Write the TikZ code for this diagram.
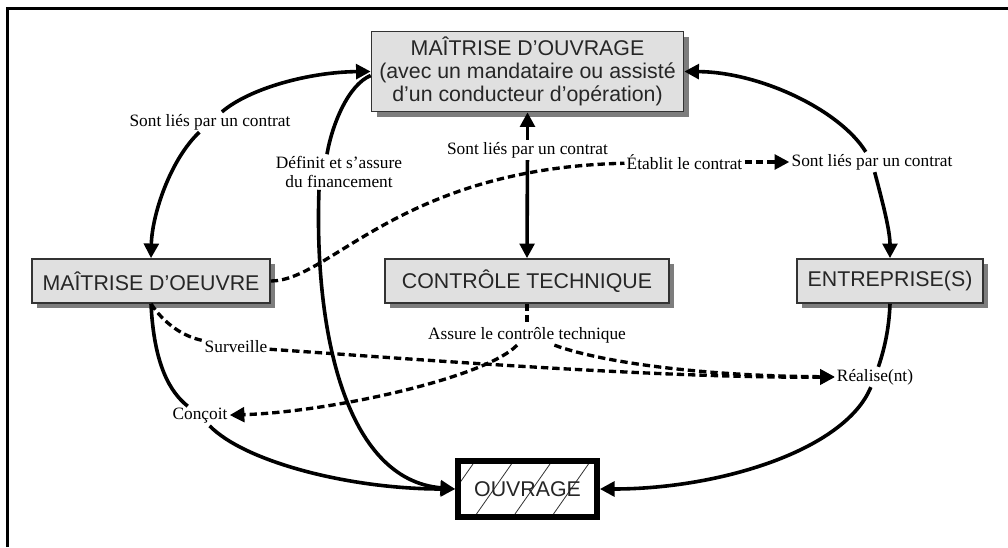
\documentclass[tikz,border=0pt]{standalone}
\usepackage{fontspec}
\setmainfont{Liberation Serif}
\newfontfamily\boxfont{Liberation Sans}
\usetikzlibrary{arrows.meta,shadows,calc}
\definecolor{boxgray}{RGB}{224,224,224}
\definecolor{shadowgray}{RGB}{125,125,125}
\begin{document}
\begin{tikzpicture}[x=0.75pt,y=-0.75pt,
  box/.style={draw=black!80, line width=1.2pt, fill=boxgray,
    font=\boxfont\fontsize{16}{17}\selectfont, text=black!85, align=center, inner sep=2pt,
    drop shadow={shadow xshift=3.75pt, shadow yshift=-3.75pt, fill=shadowgray, opacity=1}},
  lbl/.style={fill=white, inner sep=1.5pt, font=\fontsize{13}{14}\selectfont, align=center},
  conn/.style={line width=2.7pt},
  arr/.style={conn, -{Triangle[length=11pt,width=11pt]}},
  dsh/.style={line width=2.5pt, dash pattern=on 5.5pt off 3pt},
  darr/.style={dsh, -{Triangle[length=11pt,width=11pt]}},
]
\useasboundingbox (0,0) rectangle (1008,547);
\draw[line width=2pt] (7.7,547) -- (7.7,8.7) -- (1008,8.7);

% boxes
\node[box, minimum width=234pt, minimum height=60pt] (mouv) at (527.5,71.5)
  {MAÎTRISE D’OUVRAGE\\(avec un mandataire ou assisté\\d’un conducteur d’opération)};
\node[box, minimum width=178.5pt, minimum height=33pt] (moe) at (151,281) {MAÎTRISE D’OEUVRE};
\node[box, minimum width=213pt, minimum height=33pt] (ct) at (527,281) {CONTRÔLE TECHNIQUE};
\node[box, minimum width=139.5pt, minimum height=33pt] (ent) at (890,281) {ENTREPRISE(S)};
\node[draw=black, line width=4.5pt, fill=white, minimum width=104pt, minimum height=42pt, inner sep=0pt,
  font=\boxfont\fontsize{16}{17}\selectfont, text=black!85,
  path picture={\foreach \d in {-4,...,3}
     \draw[line width=0.6pt, black!80] ($(path picture bounding box.center)+(\d*38.5-72,0)+(-28,40)$) -- ++(56,-80);}]
  (ouv) at (527.5,489) {OUVRAGE};

% labels
\node[lbl] (lblA) at (210,122) {Sont liés par un contrat};
\node[lbl] (lblB) at (872,162) {Sont liés par un contrat};
\node[lbl] (lblC) at (527.5,150) {Sont liés par un contrat};
\node[lbl] (lblD) at (339,172) {Définit et s’assure\\du financement};
\node[lbl] (lblE) at (200,416) {Conçoit};
\node[lbl] (lblF) at (875,377) {Réalise(nt)};
\node[lbl] (lblG) at (684.5,162) {Établit le contrat};
\node[lbl] (lblH) at (236,347) {Surveille};
\node[lbl] (lblI) at (527,335) {Assure le contrôle technique};

% contracts
\draw[arr] (lblA) .. controls (170,160) and (152,215) .. (moe.north);
\draw[arr] (lblA) .. controls (250,88) and (310,72) .. (mouv.west);
\draw[arr] (lblB) .. controls (840,110) and (760,72) .. (mouv.east);
\draw[arr] (lblB) .. controls (882,200) and (890,230) .. (ent.north);
\draw[arr] (lblC) -- (mouv.south);
\draw[arr] (lblC) -- (ct.north);

% financement
\draw[conn] ($(lblD.north)+(-12,0)$) .. controls (332,125) and (348,85) .. ([yshift=-3pt]mouv.west);
\draw[arr] ($(lblD.south)+(-20,0)$) .. controls (314,330) and (345,480) .. (ouv.west);

% concoit
\draw[conn] (moe.south) .. controls (154,365) and (170,392) .. (lblE);
\draw[arr] (lblE) .. controls (245,462) and (350,489) .. (ouv.west);

% realise
\draw[conn] (ent.south) .. controls (889,330) and (884,350) .. (lblF);
\draw[arr] (lblF) .. controls (845,450) and (720,489) .. (ouv.east);

% dashed
\draw[dsh] (moe.east) .. controls (330,281) and (400,168) .. (lblG);
\draw[darr] (lblG) -- (lblB);
\draw[dsh] (moe.south) .. controls (165,325) and (185,337) .. (lblH);
\draw[darr] (lblH) .. controls (400,358) and (650,378) .. (lblF);
\draw[dsh] (ct.south) -- (lblI);
\draw[darr] (lblI) .. controls (485,378) and (330,412) .. (lblE);
\draw[darr] (lblI) .. controls (600,362) and (700,376) .. (lblF);
\end{tikzpicture}
\end{document}
